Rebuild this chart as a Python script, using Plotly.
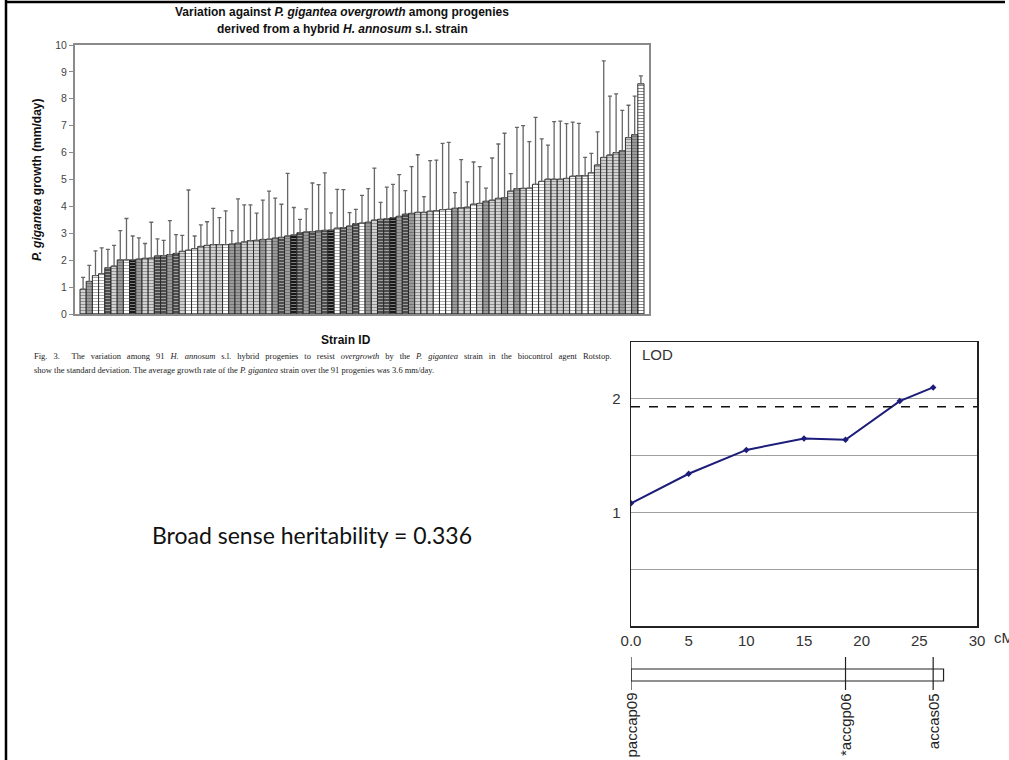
import plotly.graph_objects as go

# ---------------- data ----------------
strain_index = list(range(1, 92))
growth_mean = [0.92, 1.21, 1.43, 1.50, 1.72, 1.78, 2.01, 2.01, 2.01, 2.04,
               2.07, 2.08, 2.16, 2.17, 2.21, 2.25, 2.33, 2.37, 2.43, 2.51,
               2.55, 2.58, 2.58, 2.58, 2.60, 2.63, 2.68, 2.73, 2.74, 2.77,
               2.78, 2.82, 2.85, 2.90, 2.94, 3.02, 3.05, 3.06, 3.09, 3.11,
               3.12, 3.19, 3.21, 3.27, 3.36, 3.38, 3.41, 3.49, 3.52, 3.54,
               3.58, 3.63, 3.71, 3.74, 3.78, 3.78, 3.82, 3.84, 3.88, 3.89,
               3.93, 3.95, 3.97, 4.08, 4.11, 4.19, 4.23, 4.30, 4.32, 4.57,
               4.66, 4.67, 4.68, 4.82, 4.93, 5.01, 5.01, 5.01, 5.04, 5.12,
               5.14, 5.14, 5.25, 5.54, 5.82, 5.91, 6.00, 6.07, 6.56, 6.67,
               8.56]
growth_upper = [1.36, 1.81, 2.35, 2.46, 2.40, 2.55, 3.10, 3.55, 2.90, 2.83,
                2.62, 3.41, 2.79, 2.74, 3.47, 2.95, 2.92, 4.61, 2.90, 3.31,
                3.43, 3.93, 3.58, 3.83, 3.10, 4.28, 4.06, 4.06, 3.75, 4.23,
                4.57, 4.31, 4.08, 5.23, 3.96, 3.52, 3.91, 4.87, 4.81, 5.25,
                3.76, 4.63, 4.62, 3.77, 3.89, 4.41, 4.66, 5.42, 4.15, 4.72,
                4.82, 5.18, 4.59, 5.48, 5.92, 4.36, 5.70, 5.72, 6.34, 6.38,
                4.51, 5.74, 4.91, 5.65, 5.48, 4.68, 5.80, 6.32, 6.72, 5.22,
                6.94, 7.00, 6.41, 7.31, 6.51, 6.28, 7.15, 7.17, 7.08, 7.13,
                7.09, 5.82, 5.97, 6.77, 9.41, 8.10, 8.18, 7.57, 7.76, 8.10,
                8.85]
growth_sd = [round(u - m, 3) for u, m in zip(growth_upper, growth_mean)]

lod_pos_cm = [0, 5, 10, 15, 18.6, 23.3, 26.2]
lod_values = [1.08, 1.34, 1.55, 1.65, 1.64, 1.98, 2.10]
lod_threshold = 1.93
lod_xtick_vals = [0, 5, 10, 15, 20, 25, 30]
lod_xtick_text = ["0.0", "5", "10", "15", "20", "25", "30"]

marker_names = ["paccap09", "*accgp06", "accas05"]
marker_pos_cm = [0, 18.6, 26.2]
linkage_group_length = 27.1

heritability = 0.336

caption_line1 = ("Fig. 3.  The variation among 91 <i>H. annosum</i> s.l. hybrid progenies to resist "
                 "<i>overgrowth</i> by the <i>P. gigantea</i> strain in the biocontrol agent Rotstop.")
caption_line2 = ("show the standard deviation. The average growth rate of the <i>P. gigantea</i> "
                 "strain over the 91 progenies was 3.6 mm/day.")

# ---------------- styles ----------------
W, H = 1009, 760
shade_code = ("LMWWDLMWKMLLDDMDLWWLLLLWMMLLLMLMDMKDMDMDKWDMDWMLDDKMDMLLLWWWMLLWLML"
              "LMLMLWWWLLLLWLWWLLLLMLM")
shade_map = {"W": "#ffffff", "L": "#d2d2d2", "M": "#9c9c9c", "D": "#4e4e4e", "K": "#181818"}
stripe_map = {"W": "#f4f4f4", "L": "#c0c0c0", "M": "#888888", "D": "#3a3a3a", "K": "#050505"}
bar_fill = [shade_map[c] for c in shade_code]
bar_stripe = [stripe_map[c] for c in shade_code]


def fx(px):
    return px / W


def fy(py):
    return 1 - py / H


ARIAL = "Liberation Sans, Arial, sans-serif"
TIMES = "Liberation Serif, Times New Roman, serif"

fig = go.Figure()

fig.add_trace(go.Bar(
    x=strain_index, y=growth_mean,
    marker=dict(color=bar_fill, line=dict(color="#2a2a2a", width=1),
                pattern=dict(shape="-", fgcolor=bar_stripe, bgcolor=bar_fill,
                             size=3, solidity=0.3, fillmode="overlay")),
    error_y=dict(type="data", symmetric=False, array=growth_sd,
                 arrayminus=[0] * len(growth_sd), color="#666666",
                 thickness=1.3, width=2),
    xaxis="x", yaxis="y", showlegend=False, hoverinfo="skip",
))

fig.add_trace(go.Scatter(
    x=lod_pos_cm, y=lod_values, mode="lines+markers",
    line=dict(color="#1c1c7a", width=2),
    marker=dict(symbol="diamond", size=5, color="#1c1c7a"),
    xaxis="x2", yaxis="y2", showlegend=False, hoverinfo="skip",
))

fig.add_trace(go.Scatter(
    x=[0, 30], y=[lod_threshold, lod_threshold], mode="lines",
    line=dict(color="#111111", width=1.5, dash="dash"),
    xaxis="x2", yaxis="y2", showlegend=False, hoverinfo="skip",
))

n = len(strain_index)
pad = 5 / 6.2
fig.update_layout(
    width=W, height=H, margin=dict(l=0, r=0, t=0, b=0, autoexpand=False),
    paper_bgcolor="white", plot_bgcolor="white",
    bargap=0,
    xaxis=dict(domain=[fx(75), fx(649)], range=[0.5 - pad, n + 0.5 + pad],
               showticklabels=False, ticks="", showgrid=False, zeroline=False,
               showline=True, mirror=True, linecolor="#8a8a8a", linewidth=2,
               anchor="y"),
    yaxis=dict(domain=[fy(314), fy(45)], range=[0, 10], dtick=1,
               ticks="outside", ticklen=4, tickcolor="#8a8a8a",
               tickfont=dict(family=ARIAL, size=10.5, color="#444444"),
               showgrid=False, zeroline=False, showline=True, mirror=True,
               linecolor="#8a8a8a", linewidth=2, anchor="x"),
    xaxis2=dict(domain=[fx(631), fx(977)], range=[0, 30],
                tickvals=lod_xtick_vals, ticktext=lod_xtick_text, ticks="",
                tickfont=dict(family=ARIAL, size=15, color="#333333"),
                showgrid=False, zeroline=False, showline=True, mirror=True,
                linecolor="#222222", linewidth=1.5, anchor="y2"),
    yaxis2=dict(domain=[fy(626), fy(342)], range=[0, 2.5],
                tickvals=[0.5, 1, 1.5, 2], ticktext=["", "1", "", "2"], ticks="",
                tickfont=dict(family=ARIAL, size=15, color="#333333"),
                ticklabelstandoff=6,
                showgrid=True, gridcolor="#a0a0a0", gridwidth=1.2,
                zeroline=False, showline=True, mirror=True,
                linecolor="#222222", linewidth=1.5, anchor="x2"),
)

annotations = [
    dict(x=fx(342), y=fy(12), text="<b>Variation against <i>P. gigantea overgrowth</i> among progenies</b>",
         font=dict(family=ARIAL, size=12, color="#111111")),
    dict(x=fx(342), y=fy(29), text="<b>derived from a hybrid <i>H. annosum</i> s.l. strain</b>",
         font=dict(family=ARIAL, size=12, color="#111111")),
    dict(x=fx(37), y=fy(180), text="<b><i>P. gigantea</i> growth (mm/day)</b>", textangle=-90,
         font=dict(family=ARIAL, size=12, color="#111111")),
    dict(x=fx(346), y=fy(340), text="<b>Strain ID</b>",
         font=dict(family=ARIAL, size=12, color="#111111")),
    dict(x=fx(32), y=fy(356), xanchor="left",
         text=caption_line1.replace(" ", "&nbsp;&#8201; "),
         font=dict(family=TIMES, size=8.5, color="#222222")),
    dict(x=fx(32), y=fy(370), xanchor="left", text=caption_line2,
         font=dict(family=TIMES, size=8.5, color="#222222")),
    dict(x=fx(150), y=fy(535), xanchor="left",
         text=f"Broad sense heritability = {heritability}",
         font=dict(family="Lato, Open Sans, sans-serif", size=23, color="#111111")),
    dict(x=fx(640), y=fy(355), xanchor="left", text="LOD",
         font=dict(family=ARIAL, size=15, color="#333333")),
    dict(x=fx(992), y=fy(637), xanchor="left", text="cM",
         font=dict(family=ARIAL, size=15, color="#333333")),
]
for name, pos in zip(marker_names, marker_pos_cm):
    annotations.append(dict(x=pos, xref="x2", y=fy(691), yref="paper",
                            xanchor="center", yanchor="top",
                            text=name, textangle=-90, showarrow=False,
                            font=dict(family=ARIAL, size=15, color="#222222")))
for a in annotations:
    a.setdefault("xref", "paper")
    a.setdefault("yref", "paper")
    a.setdefault("xanchor", "center")
    a.setdefault("yanchor", "middle")
    a.setdefault("showarrow", False)
fig.update_layout(annotations=annotations)

shapes = [
    dict(type="line", xref="paper", yref="paper", x0=fx(6), x1=fx(6), y0=0, y1=1,
         line=dict(color="black", width=2.5)),
    dict(type="line", xref="paper", yref="paper", x0=fx(6), x1=fx(1005), y0=fy(2), y1=fy(2),
         line=dict(color="black", width=2.5)),
    dict(type="rect", xref="x2", yref="paper", x0=0, x1=linkage_group_length,
         y0=fy(681), y1=fy(669), line=dict(color="#222222", width=1.2), fillcolor="white"),
]
for pos in marker_pos_cm:
    shapes.append(dict(type="line", xref="x2", yref="paper", x0=pos, x1=pos,
                       y0=fy(690), y1=fy(657), line=dict(color="#222222", width=1.2)))
fig.update_layout(shapes=shapes)

fig.write_html(
    "out.html",
    config={"displayModeBar": False, "staticPlot": True},
    post_script=("document.documentElement.style.margin='0';"
                 "document.documentElement.style.overflow='hidden';"
                 "document.body.style.margin='0';"
                 "document.body.style.padding='0';"
                 "document.body.style.overflow='hidden';"),
)
